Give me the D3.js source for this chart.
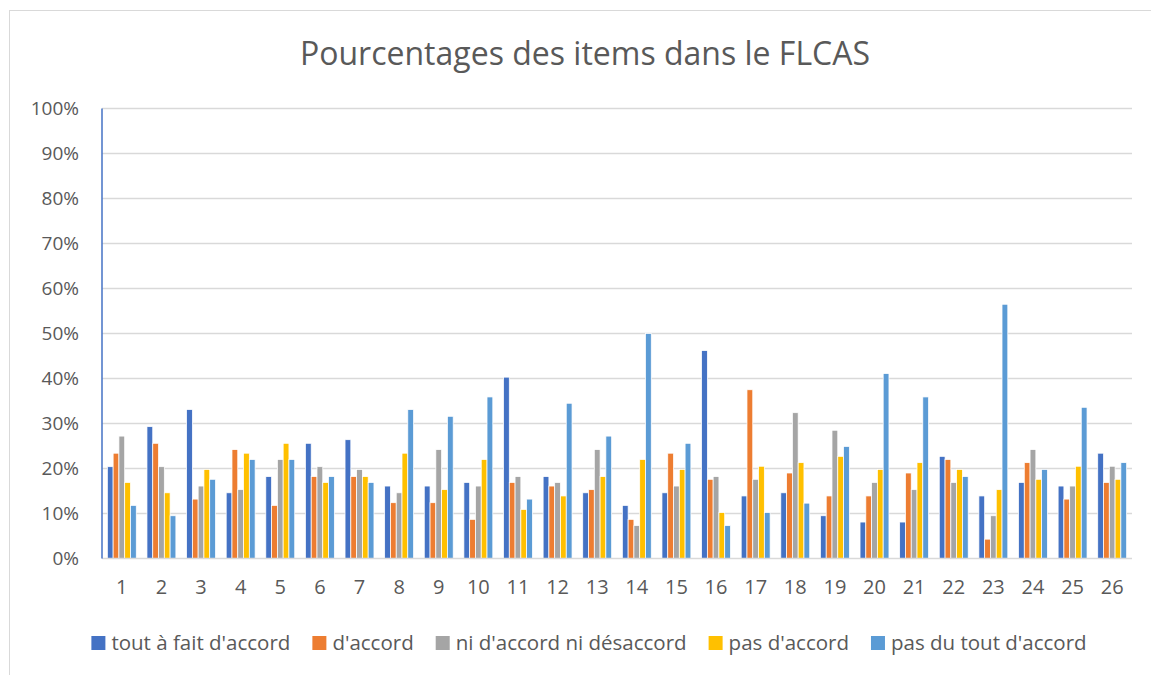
<!doctype html>
<html>
<head>
<meta charset="utf-8">
<style>
	body { margin: 0; background: #fff; }
	text { font-family: "Open Sans", Lato, sans-serif; fill: #595959; }
</style>
<script src="https://cdn.jsdelivr.net/npm/d3@7"></script>
</head>
<body>
<svg id="chart" width="1151" height="675"></svg>
<script>

var items = d3.range(1, 27).map(String);

var series = ["tout à fait d'accord", "d'accord", "ni d'accord ni désaccord", "pas d'accord", "pas du tout d'accord"];
var colors = ["#4472C4", "#ED7D31", "#A5A5A5", "#FFC000", "#5B9BD5"];

// percentages, one array per answer, items 1..26
var toutAFait = [20.4, 29.3, 33.1, 14.6, 18.2, 25.6, 26.4, 16.1, 16.1, 16.9, 40.3, 18.2, 14.6, 11.8, 14.6, 46.2, 13.9, 14.6, 9.5, 8.1, 8.1, 22.7, 13.9, 16.9, 16.1, 23.4];
var dAccord   = [23.4, 25.6, 13.2, 24.2, 11.8, 18.2, 18.2, 12.4, 12.4, 8.7, 16.9, 16.1, 15.3, 8.7, 23.4, 17.6, 37.5, 19.0, 13.9, 13.9, 19.0, 22.0, 4.3, 21.3, 13.2, 16.9];
var niNi      = [27.2, 20.4, 16.1, 15.3, 22.0, 20.4, 19.8, 14.6, 24.2, 16.1, 18.2, 16.9, 24.2, 7.3, 16.1, 18.2, 17.6, 32.4, 28.5, 16.9, 15.3, 16.9, 9.5, 24.2, 16.1, 20.5];
var pasDAcc   = [16.9, 14.6, 19.8, 23.4, 25.6, 16.9, 18.2, 23.4, 15.3, 22.0, 10.9, 13.9, 18.2, 22.0, 19.8, 10.2, 20.5, 21.3, 22.7, 19.8, 21.3, 19.8, 15.3, 17.6, 20.5, 17.6];
var pasDuTout = [11.8, 9.5, 17.6, 22.0, 22.0, 18.2, 16.9, 33.1, 31.6, 35.9, 13.2, 34.5, 27.2, 50.0, 25.6, 7.3, 10.2, 12.3, 24.9, 41.1, 35.9, 18.2, 56.5, 19.8, 33.6, 21.3];

var yTicks = d3.range(0, 101, 10);

var values = [toutAFait, dAccord, niNi, pasDAcc, pasDuTout];

var svg = d3.select("#chart");

// chart frame
svg.append("rect")
	.attr("x", 9.5).attr("y", 10.5)
	.attr("width", 1200).attr("height", 700)
	.attr("fill", "none").attr("stroke", "#d9d9d9");

var plotLeft = 102, plotRight = 1132, plotTop = 108.5, plotBottom = 558.5;

var x = d3.scaleBand().domain(items).range([plotLeft, plotRight]).paddingInner(0.27).paddingOuter(0.135);
var xs = d3.scaleBand().domain(d3.range(series.length)).range([0, x.bandwidth()]);
var y = d3.scaleLinear().domain([0, 100]).range([plotBottom, plotTop]);

// grid
svg.append("g")
	.selectAll("line").data(yTicks.slice(1)).enter().append("line")
	.attr("x1", plotLeft).attr("x2", plotRight)
	.attr("y1", function(d) { return y(d); })
	.attr("y2", function(d) { return y(d); })
	.attr("stroke", "#d9d9d9").attr("stroke-width", 1.5);

// y labels
var yAxis = svg.append("g")
	.attr("transform", "translate(" + plotLeft + ",0)")
	.call(d3.axisLeft(y).tickValues(yTicks).tickSize(0).tickPadding(23)
		.tickFormat(function(d) { return d + "%"; }));
yAxis.select(".domain").remove();
yAxis.selectAll("text").style("font-size", "19px").style("fill", "#595959")
	.style("font-family", null);

// bars
svg.append("g")
	.selectAll("g").data(items).enter().append("g")
	.attr("transform", function(d) { return "translate(" + x(d) + ",0)"; })
	.selectAll("rect")
	.data(function(d, i) { return values.map(function(v, s) { return { s: s, v: v[i] }; }); })
	.enter().append("rect")
	.attr("x", function(d) { return xs(d.s); })
	.attr("width", xs.bandwidth())
	.attr("y", function(d) { return y(d.v); })
	.attr("height", function(d) { return plotBottom - y(d.v); })
	.attr("fill", function(d) { return colors[d.s]; })
	.attr("stroke", "#fff").attr("stroke-width", 0.75);

// baseline + blue vertical axis
svg.append("line")
	.attr("x1", plotLeft).attr("x2", plotRight).attr("y1", plotBottom).attr("y2", plotBottom)
	.attr("stroke", "#d9d9d9").attr("stroke-width", 1.5);
svg.append("line")
	.attr("x1", plotLeft).attr("x2", plotLeft).attr("y1", plotTop).attr("y2", plotBottom)
	.attr("stroke", "#4472C4").attr("stroke-width", 1.5);

// x labels
var xAxis = svg.append("g")
	.attr("transform", "translate(0," + plotBottom + ")")
	.call(d3.axisBottom(x).tickSize(0).tickPadding(21));
xAxis.select(".domain").remove();
xAxis.selectAll("text").style("font-size", "20px").style("fill", "#595959")
	.style("font-family", null);

// title
svg.append("text")
	.attr("x", 585).attr("y", 65)
	.attr("text-anchor", "middle")
	.style("font-size", "32px")
	.text("Pourcentages des items dans le FLCAS");

// legend
var legend = svg.append("g");
var lx = 0;
series.forEach(function(name, i) {
	var g = legend.append("g").attr("transform", "translate(" + lx + ",0)");
	g.append("rect").attr("x", 0).attr("y", -14).attr("width", 14).attr("height", 14)
		.attr("fill", colors[i]);
	var t = g.append("text").attr("x", 20).attr("y", 0).style("font-size", "20.5px").text(name);
	lx += 20 + t.node().getComputedTextLength() + 22;
});
lx -= 22;
legend.attr("transform", "translate(" + (589 - lx / 2) + ",650)");

</script>
</body>
</html>
